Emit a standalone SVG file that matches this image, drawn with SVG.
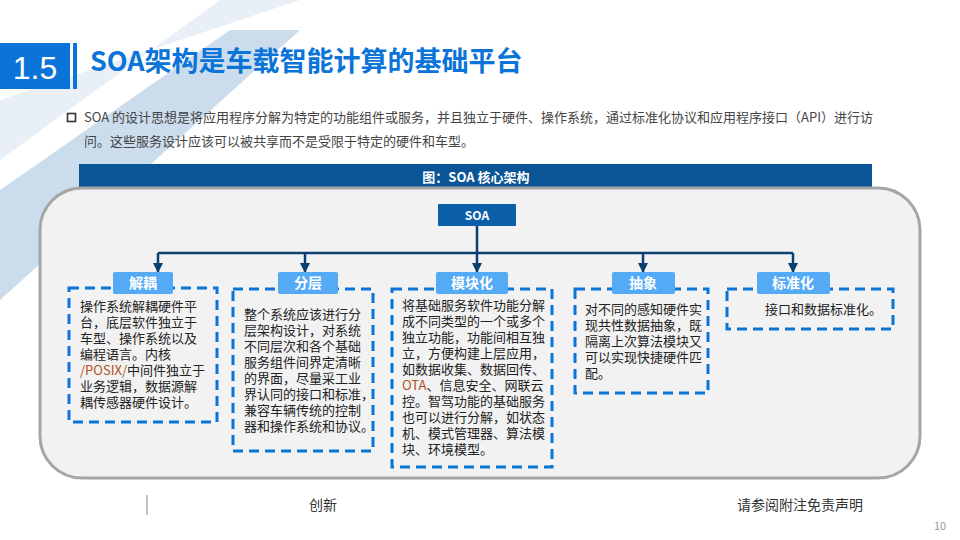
<svg xmlns="http://www.w3.org/2000/svg" width="960" height="540" viewBox="0 0 960 540">
<style>
text{font-family:"Noto Sans CJK SC","Noto Sans",sans-serif}
.b{font-size:13px;fill:#222}
.lab{font-size:14px;fill:#fff;font-weight:bold;text-anchor:middle}
.lb{fill:#55aaf5}
.dash{fill:none;stroke:#0b74d8;stroke-width:3;stroke-dasharray:10,6}
.con{stroke:#0a3f70;stroke-width:2.5;fill:none}
.o{fill:#b0501a}
</style>
<defs>
<marker id="ar" viewBox="0 0 10 10" refX="9" refY="5" markerWidth="4" markerHeight="4" orient="auto"><path d="M0,0L10,5L0,10z" fill="#0a3f70"/></marker>
</defs>
<rect width="960" height="540" fill="#fff"/>
<path d="M0,100 L300,0 L220,0 L0,160 Z" fill="#e8eff6"/>
<path d="M0,190 L230,30 L300,30 L0,300 Z" fill="#a9c7e1" opacity="0.6"/>
<rect x="0" y="43" width="70" height="46" fill="#0b74d8"/>
<text x="35" y="79" font-size="32" fill="#fff" text-anchor="middle" style="font-family:'Liberation Sans',sans-serif">1.5</text>
<rect x="73" y="43" width="4" height="46" fill="#0b74d8"/>
<text x="90" y="71" font-size="27" font-weight="bold" fill="#0b74d8">SOA架构是车载智能计算的基础平台</text>
<rect x="67.5" y="113.5" width="8" height="8" fill="none" stroke="#333" stroke-width="1.6"/>
<text x="84" y="122" font-size="13" fill="#444">SOA 的设计思想是将应用程序分解为特定的功能组件或服务，并且独立于硬件、操作系统，通过标准化协议和应用程序接口（API）进行访</text>
<text x="84" y="146" font-size="13" fill="#444">问。这些服务设计应该可以被共享而不是受限于特定的硬件和车型。</text>
<rect x="79" y="164" width="793" height="26" fill="#0a5596"/>
<text x="476" y="182" font-size="13" font-weight="bold" fill="#fff" text-anchor="middle">图：SOA 核心架构</text>
<rect x="40" y="188" width="880" height="290" rx="42" fill="#f2f2f2" stroke="#a6a6a6" stroke-width="3"/>
<g id="soa"><rect x="438" y="204" width="78" height="22" fill="#0b5ea8" rx="1"/><text x="477" y="220" font-size="12" font-weight="bold" fill="#fff" text-anchor="middle">SOA</text></g>
<g id="connectors">
<path class="con" d="M477,226V253M158,253H793"/>
<path class="con" d="M158,253V272" marker-end="url(#ar)"/>
<path class="con" d="M305,253V272" marker-end="url(#ar)"/>
<path class="con" d="M477,253V272" marker-end="url(#ar)"/>
<path class="con" d="M643,253V272" marker-end="url(#ar)"/>
<path class="con" d="M793,253V272" marker-end="url(#ar)"/>
</g>
<g id="n1"><rect class="dash" x="69" y="288" width="148" height="134"/><rect class="lb" x="113" y="272" width="60" height="22" rx="2"/><text class="lab" x="143" y="288">解耦</text>
<text class="b" x="80" y="311">操作系统解耦硬件平</text>
<text class="b" x="80" y="327">台，底层软件独立于</text>
<text class="b" x="80" y="343">车型、操作系统以及</text>
<text class="b" x="80" y="359">编程语言。内核</text>
<text class="b" x="80" y="375"><tspan class="o">/POSIX/</tspan>中间件独立于</text>
<text class="b" x="80" y="391">业务逻辑，数据源解</text>
<text class="b" x="80" y="407">耦传感器硬件设计。</text></g>
<g id="n2"><rect class="dash" x="233" y="289" width="140" height="162"/><rect class="lb" x="278" y="272" width="60" height="22" rx="2"/><text class="lab" x="308" y="288">分层</text>
<text class="b" x="244" y="319">整个系统应该进行分</text>
<text class="b" x="244" y="335">层架构设计，对系统</text>
<text class="b" x="244" y="351">不同层次和各个基础</text>
<text class="b" x="244" y="367">服务组件间界定清晰</text>
<text class="b" x="244" y="383">的界面，尽量采工业</text>
<text class="b" x="244" y="399">界认同的接口和标准，</text>
<text class="b" x="244" y="415">兼容车辆传统的控制</text>
<text class="b" x="244" y="431">器和操作系统和协议。</text></g>
<g id="n3"><rect class="dash" x="392" y="289" width="160" height="178"/><rect class="lb" x="436" y="272" width="72" height="22" rx="2"/><text class="lab" x="472" y="288">模块化</text>
<text class="b" x="402" y="310">将基础服务软件功能分解</text>
<text class="b" x="402" y="326">成不同类型的一个或多个</text>
<text class="b" x="402" y="342">独立功能，功能间相互独</text>
<text class="b" x="402" y="358">立，方便构建上层应用，</text>
<text class="b" x="402" y="374">如数据收集、数据回传、</text>
<text class="b" x="402" y="390"><tspan class="o">OTA</tspan>、信息安全、网联云</text>
<text class="b" x="402" y="406">控。智驾功能的基础服务</text>
<text class="b" x="402" y="422">也可以进行分解，如状态</text>
<text class="b" x="402" y="438">机、模式管理器、算法模</text>
<text class="b" x="402" y="454">块、环境模型。</text></g>
<g id="n4"><rect class="dash" x="575" y="289" width="133" height="104"/><rect class="lb" x="612" y="272" width="63" height="22" rx="2"/><text class="lab" x="643" y="288">抽象</text>
<text class="b" x="585" y="314">对不同的感知硬件实</text>
<text class="b" x="585" y="330">现共性数据抽象，既</text>
<text class="b" x="585" y="346">隔离上次算法模块又</text>
<text class="b" x="585" y="362">可以实现快捷硬件匹</text>
<text class="b" x="585" y="378">配。</text></g>
<g id="n5"><rect class="dash" x="727" y="289" width="166" height="40"/><rect class="lb" x="757" y="272" width="73" height="22" rx="2"/><text class="lab" x="793" y="288">标准化</text>
<text class="b" x="765" y="314">接口和数据标准化。</text></g>
<line x1="147" y1="495" x2="147" y2="515" stroke="#888"/>
<text x="323" y="510" font-size="14" fill="#333" text-anchor="middle">创新</text>
<text x="800" y="510" font-size="14" fill="#333" text-anchor="middle">请参阅附注免责声明</text>
<text x="940" y="530" font-size="11" fill="#999" text-anchor="middle">10</text>
</svg>
